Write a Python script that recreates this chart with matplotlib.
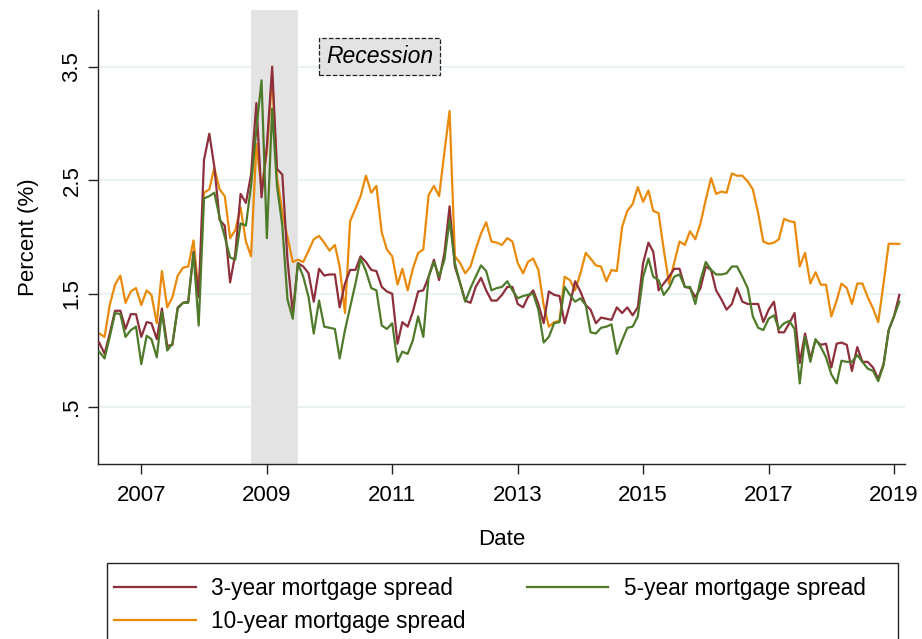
import numpy as np
import pandas as pd
import matplotlib
matplotlib.use("Agg")
import matplotlib.pyplot as plt
from matplotlib.patches import Rectangle

plt.rcParams['font.family'] = ['Liberation Sans', 'DejaVu Sans']

# monthly observations, 2006m5 - 2019m2
dates = pd.date_range('2006-05-01', '2019-02-01', freq='MS')

spread_3y = [1.07, 0.97, 1.15, 1.35, 1.35, 1.19, 1.32, 1.32, 1.12, 1.25, 1.24, 1.10,
             1.37, 1.04, 1.05, 1.38, 1.42, 1.43, 1.87, 1.47, 2.68, 2.91, 2.62, 2.15,
             2.10, 1.60, 1.85, 2.38, 2.30, 2.55, 3.18, 2.35, 2.80, 3.50, 2.60, 2.55,
             1.80, 1.33, 1.77, 1.74, 1.68, 1.43, 1.72, 1.66, 1.67, 1.67, 1.38, 1.59,
             1.71, 1.71, 1.83, 1.78, 1.71, 1.70, 1.56, 1.52, 1.50, 1.06, 1.25, 1.21,
             1.34, 1.52, 1.53, 1.65, 1.80, 1.62, 1.86, 2.27, 1.74, 1.59, 1.44, 1.42,
             1.56, 1.64, 1.53, 1.44, 1.44, 1.49, 1.56, 1.56, 1.41, 1.38, 1.47, 1.53,
             1.41, 1.24, 1.52, 1.49, 1.48, 1.24, 1.41, 1.61, 1.52, 1.40, 1.36, 1.24,
             1.29, 1.28, 1.27, 1.38, 1.33, 1.38, 1.31, 1.38, 1.77, 1.95, 1.87, 1.53,
             1.59, 1.65, 1.72, 1.72, 1.56, 1.55, 1.47, 1.55, 1.74, 1.71, 1.53, 1.45,
             1.36, 1.41, 1.55, 1.43, 1.41, 1.41, 1.41, 1.25, 1.36, 1.43, 1.16, 1.16,
             1.24, 1.33, 0.89, 1.15, 0.93, 1.09, 1.05, 1.06, 0.85, 1.06, 1.07, 1.05,
             0.82, 1.03, 0.90, 0.90, 0.85, 0.75, 0.88, 1.18, 1.30, 1.49]

spread_5y = [0.99, 0.93, 1.12, 1.33, 1.32, 1.12, 1.18, 1.21, 0.88, 1.13, 1.10, 0.94,
             1.34, 1.00, 1.06, 1.37, 1.42, 1.42, 1.86, 1.22, 2.34, 2.36, 2.39, 2.17,
             2.00, 1.82, 1.80, 2.12, 2.10, 2.45, 2.95, 3.38, 1.99, 3.13, 2.45, 2.10,
             1.45, 1.28, 1.77, 1.65, 1.47, 1.15, 1.44, 1.21, 1.20, 1.19, 0.93, 1.18,
             1.38, 1.59, 1.81, 1.70, 1.55, 1.53, 1.22, 1.19, 1.24, 0.90, 0.99, 0.97,
             1.09, 1.30, 1.12, 1.65, 1.78, 1.65, 1.80, 2.15, 1.77, 1.59, 1.43, 1.55,
             1.65, 1.75, 1.70, 1.53, 1.55, 1.56, 1.61, 1.53, 1.46, 1.48, 1.49, 1.50,
             1.36, 1.07, 1.12, 1.24, 1.25, 1.56, 1.49, 1.43, 1.46, 1.40, 1.16, 1.15,
             1.20, 1.21, 1.23, 0.97, 1.09, 1.20, 1.21, 1.30, 1.65, 1.81, 1.65, 1.62,
             1.49, 1.55, 1.65, 1.67, 1.56, 1.56, 1.41, 1.62, 1.78, 1.71, 1.67, 1.67,
             1.68, 1.74, 1.74, 1.65, 1.55, 1.30, 1.20, 1.18, 1.28, 1.31, 1.19, 1.24,
             1.26, 1.19, 0.71, 1.12, 0.90, 1.10, 1.03, 0.94, 0.79, 0.71, 0.91, 0.90,
             0.90, 0.96, 0.90, 0.84, 0.82, 0.73, 0.87, 1.18, 1.30, 1.43]

spread_10y = [1.15, 1.12, 1.40, 1.58, 1.66, 1.42, 1.52, 1.55, 1.40, 1.53, 1.49, 1.24,
              1.70, 1.38, 1.47, 1.66, 1.73, 1.74, 1.97, 1.50, 2.39, 2.42, 2.61, 2.42,
              2.36, 1.99, 2.06, 2.26, 1.96, 1.83, 2.82, 2.42, 2.75, 3.42, 2.53, 2.21,
              2.00, 1.78, 1.80, 1.78, 1.88, 1.98, 2.01, 1.95, 1.88, 1.93, 1.74, 1.33,
              2.14, 2.25, 2.36, 2.54, 2.39, 2.45, 2.04, 1.89, 1.83, 1.58, 1.72, 1.53,
              1.72, 1.86, 1.89, 2.37, 2.45, 2.36, 2.75, 3.11, 1.83, 1.77, 1.68, 1.74,
              1.89, 2.03, 2.13, 1.96, 1.95, 1.93, 1.99, 1.96, 1.77, 1.68, 1.78, 1.81,
              1.71, 1.40, 1.21, 1.25, 1.26, 1.65, 1.62, 1.53, 1.68, 1.86, 1.81, 1.75,
              1.74, 1.61, 1.71, 1.70, 2.09, 2.23, 2.29, 2.44, 2.31, 2.41, 2.23, 2.21,
              1.89, 1.59, 1.77, 1.96, 1.93, 2.05, 1.98, 2.12, 2.33, 2.52, 2.38, 2.40,
              2.39, 2.56, 2.54, 2.54, 2.49, 2.42, 2.21, 1.96, 1.94, 1.95, 1.98, 2.16,
              2.14, 2.13, 1.74, 1.86, 1.59, 1.69, 1.58, 1.58, 1.30, 1.44, 1.59, 1.55,
              1.41, 1.59, 1.59, 1.47, 1.37, 1.25, 1.59, 1.94, 1.94, 1.94]

recession = (pd.Timestamp('2008-10-01'), pd.Timestamp('2009-07-01'))
year_ticks = [2007, 2009, 2011, 2013, 2015, 2017, 2019]
y_ticks = [0.5, 1.5, 2.5, 3.5]
y_labels = ['.5', '1.5', '2.5', '3.5']

fig = plt.figure(figsize=(9.22, 6.39), dpi=100)
ax = fig.add_axes([97.7 / 922, 1 - 464 / 639, (905 - 97.7) / 922, (464 - 10) / 639])

for yv in y_ticks:
    ax.axhline(yv, color='#EAF2F3', lw=1.6, zorder=0)
ax.axvspan(recession[0], recession[1], color='#E3E3E3', lw=0, zorder=1)

l3, = ax.plot(dates, spread_3y, color='#8E2F3C', lw=1.6, zorder=3, label='3-year mortgage spread')
l5, = ax.plot(dates, spread_5y, color='#4E7A2A', lw=1.6, zorder=3, label='5-year mortgage spread')
l10, = ax.plot(dates, spread_10y, color='#EA8A0B', lw=1.6, zorder=2, label='10-year mortgage spread')

ax.text(pd.Timestamp('2010-10-20'), 3.59, 'Recession', style='italic', fontsize=16.5,
        ha='center', va='center', zorder=4,
        bbox=dict(boxstyle='square,pad=0.3', fc='#E3E3E3', ec='#222222', ls='--', lw=0.9))

ax.set_xlim(pd.Timestamp('2006-04-22'), pd.Timestamp('2019-03-06'))
ax.set_ylim(0, 4)
ax.set_xticks([pd.Timestamp(f'{y}-01-01') for y in year_ticks])
ax.set_xticklabels([str(y) for y in year_ticks], fontsize=16)
ax.set_yticks(y_ticks)
ax.set_yticklabels(y_labels, fontsize=16, rotation=90, va='center')
ax.tick_params(axis='both', length=7, width=1, color='#222222')
ax.tick_params(axis='x', pad=8)
ax.tick_params(axis='y', pad=4)

for s in ['top', 'right']:
    ax.spines[s].set_visible(False)
for s in ['left', 'bottom']:
    ax.spines[s].set_color('#222222')
    ax.spines[s].set_linewidth(1)

ax.set_xlabel('Date', fontsize=16, labelpad=17)
ax.set_ylabel('Percent (%)', fontsize=16, labelpad=16)

# legend box, drawn separately so it spans the full width like the original
fig.add_artist(Rectangle((107 / 922, -0.02), (898 - 107) / 922, 1 - 563 / 639 + 0.02,
                         transform=fig.transFigure, fill=False, ec='#222222', lw=1))
fig.legend([l3, l10, l5], [l3.get_label(), l10.get_label(), l5.get_label()],
           loc='upper left', ncol=2, bbox_to_anchor=(114 / 922, 1 - 577 / 639),
           fontsize=16.3, frameon=False, handlelength=3.6, handletextpad=0.7,
           columnspacing=2.7, borderaxespad=0, borderpad=0, labelspacing=0.45)

fig.savefig('out.png', dpi=100)
